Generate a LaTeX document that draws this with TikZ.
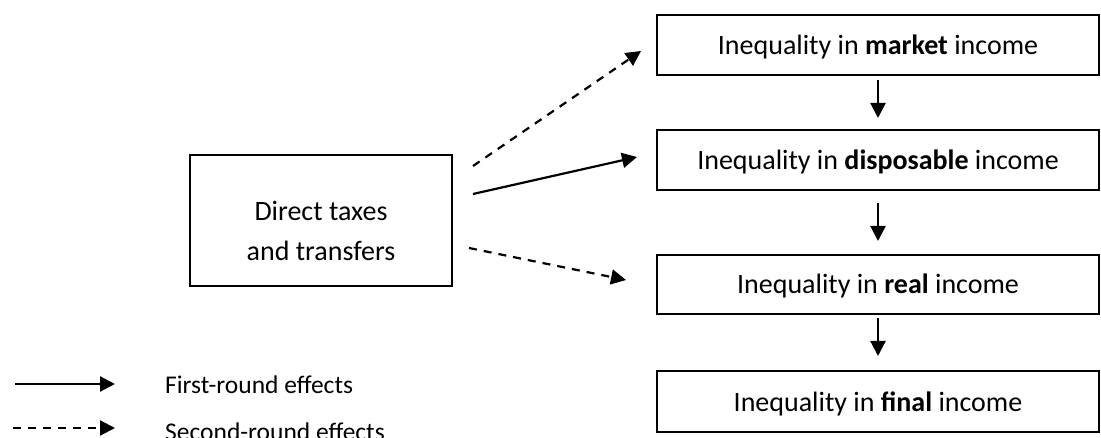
\documentclass[tikz,border=0pt]{standalone}
\usepackage{fontspec}
\setmainfont{Carlito}
\usetikzlibrary{arrows.meta}

\tikzset{
  stage/.style={draw, line width=2pt, inner sep=0pt, minimum width=442pt,
    minimum height=60pt, text height=19pt, text depth=0pt,
    font=\fontsize{28}{34}\selectfont},
  policy/.style={draw, line width=2pt, inner sep=0pt, minimum width=262pt,
    minimum height=131pt, align=center, font=\fontsize{28}{40}\selectfont},
  legendtext/.style={anchor=base west, inner sep=0pt, font=\fontsize{25.5}{30}\selectfont},
  link/.style={line width=2.2pt, -{Triangle[length=15pt,width=15pt]}},
  firstround/.style={link},
  secondround/.style={link, dash pattern=on 8pt off 7pt},
}

\begin{document}
\begin{tikzpicture}[x=1pt, y=-1pt]
\useasboundingbox (0,0) rectangle (1101,438);

% income stages
\node[stage] (mkt)  at (878,45)    {Inequality in \textbf{market} income};
\node[stage] (disp) at (878,160)   {Inequality in \textbf{disposable} income};
\node[stage, minimum height=59pt] (real) at (878,284.5) {Inequality in \textbf{real} income};
\node[stage, minimum height=61pt] (fin)  at (878,401.5) {Inequality in \textbf{final} income};

% policy box
\node[policy] (dt) at (321,220.5) {\rule{0pt}{41pt}Direct taxes\\and transfers};

% chain between the stages
\draw[firstround, shorten <=4pt, shorten >=11pt] (mkt.south) -- (disp.north);
\draw[firstround, shorten <=12pt, shorten >=13pt] (disp.south) -- (real.north);
\draw[firstround, shorten <=3pt, shorten >=14pt] (real.south) -- (fin.north);

% effects of taxes and transfers
\draw[secondround] ([xshift=20pt,yshift=54.5pt]dt.east) -- ([xshift=-15pt,yshift=-6pt]mkt.west);
\draw[firstround]  ([xshift=20pt,yshift=26.5pt]dt.east) -- ([xshift=-19pt,yshift=3pt]disp.west);
\draw[secondround] ([xshift=16pt,yshift=-27.5pt]dt.east) -- ([xshift=-30pt,yshift=4.5pt]real.west);

% legend
\coordinate (s1) at (15,384);
\coordinate (s2) at (115,384);
\coordinate (d1) at (13,428);
\coordinate (d2) at (115,428);
\draw[firstround] (s1) -- (s2);
\draw[secondround] (d1) -- (d2);
\node[legendtext] (lfirst)  at (165,394) {First-round effects};
\node[legendtext] (lsecond) at (165,440) {Second-round effects};
\end{tikzpicture}
\end{document}
